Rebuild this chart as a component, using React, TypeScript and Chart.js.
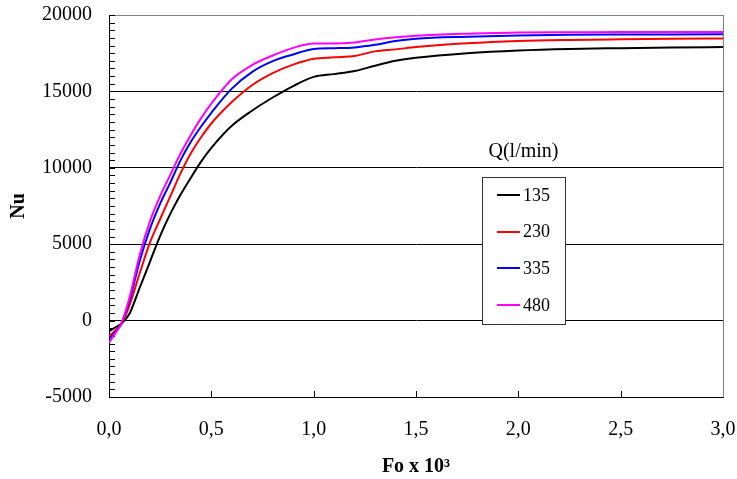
import React, { useEffect, useRef } from "react";
import { Chart, registerables } from "chart.js";

Chart.register(...registerables);

const foValues = [0, 0.03, 0.06, 0.1, 0.15, 0.2, 0.25, 0.3, 0.35, 0.4, 0.45, 0.5, 0.6, 0.7, 0.8, 0.9, 1.0, 1.1, 1.2, 1.3, 1.4, 1.5, 1.75, 2.0, 2.25, 2.5, 2.75, 3.0];

const nu135 = [-700, -450, -200, 450, 2150, 3850, 5550, 7000, 8250, 9350, 10400, 11300, 12750, 13750, 14600, 15350, 15950, 16130, 16330, 16680, 17000, 17200, 17500, 17680, 17780, 17830, 17870, 17900];
const nu230 = [-1030, -650, -250, 1000, 3100, 5100, 6650, 8150, 9650, 10950, 12000, 12900, 14300, 15420, 16200, 16750, 17130, 17230, 17320, 17620, 17750, 17900, 18150, 18300, 18370, 18410, 18440, 18460];
const nu335 = [-1250, -750, -200, 1300, 3900, 6000, 7650, 9050, 10500, 11700, 12700, 13600, 15180, 16280, 16980, 17420, 17780, 17830, 17880, 18050, 18300, 18450, 18580, 18660, 18700, 18720, 18730, 18740];
const nu480 = [-1440, -850, -200, 1500, 4300, 6500, 8150, 9550, 10950, 12150, 13250, 14200, 15800, 16730, 17350, 17850, 18130, 18130, 18200, 18400, 18550, 18650, 18780, 18860, 18870, 18880, 18880, 18890];

const seriesLabels = ["135", "230", "335", "480"];
const seriesColors = ["#000000", "#ff0000", "#0000ff", "#ff00ff"];
const seriesValues = [nu135, nu230, nu335, nu480];

const legendTitle = "Q(l/min)";
const xTitle = "Fo x 10³";
const yTitle = "Nu";

const FONT = "'Liberation Serif', 'Times New Roman', serif";

const inwardTicks = {
  id: "inwardTicks",
  beforeDatasetsDraw(chart: any) {
    const { ctx, chartArea, scales } = chart;
    const x = scales.x;
    const y = scales.y;
    ctx.save();
    ctx.strokeStyle = "#000";
    ctx.lineWidth = 1;
    ctx.beginPath();
    for (let v = -5000; v <= 20000; v += 500) {
      const py = Math.round(y.getPixelForValue(v)) + 0.5;
      ctx.moveTo(chartArea.left, py);
      ctx.lineTo(chartArea.left + 6, py);
    }
    for (let v = 0.5; v < 3; v += 0.5) {
      const px = Math.round(x.getPixelForValue(v)) + 0.5;
      ctx.moveTo(px, chartArea.bottom);
      ctx.lineTo(px, chartArea.bottom - 6);
    }
    ctx.stroke();
    ctx.restore();
  },
};

const boxLegend = {
  id: "boxLegend",
  afterDraw(chart: any) {
    const { ctx, chartArea } = chart;
    const left = chartArea.left + 373;
    const top = chartArea.top + 162;
    const w = 83;
    const h = 147;
    ctx.save();
    ctx.font = `20px ${FONT}`;
    ctx.fillStyle = "#000";
    ctx.textAlign = "center";
    ctx.textBaseline = "middle";
    ctx.fillText(legendTitle, left + w / 2, chartArea.top + 137);
    ctx.fillStyle = "#fff";
    ctx.fillRect(left + 0.5, top + 0.5, w, h);
    ctx.strokeStyle = "#333";
    ctx.lineWidth = 1;
    ctx.strokeRect(left + 0.5, top + 0.5, w, h);
    ctx.font = `18px ${FONT}`;
    ctx.textAlign = "left";
    seriesLabels.forEach((lab, i) => {
      const cy = top + 18 + i * 36.7;
      ctx.strokeStyle = seriesColors[i];
      ctx.lineWidth = 2;
      ctx.beginPath();
      ctx.moveTo(left + 15, Math.round(cy));
      ctx.lineTo(left + 38, Math.round(cy));
      ctx.stroke();
      ctx.fillStyle = "#000";
      ctx.fillText(lab, left + 41, cy + 1);
    });
    ctx.restore();
  },
};

export default function App() {
  const ref = useRef<HTMLCanvasElement>(null);
  useEffect(() => {
    if (!ref.current) return;
    const datasets = seriesValues.map((vals, i) => ({
      label: seriesLabels[i],
      data: foValues.map((fx, j) => ({ x: fx, y: vals[j] })),
      borderColor: seriesColors[i],
      backgroundColor: seriesColors[i],
      borderWidth: 2,
      pointRadius: 0,
      fill: false,
      cubicInterpolationMode: "monotone" as const,
      order: 3 - i,
    }));
    const chart = new Chart(ref.current, {
      type: "line",
      data: { datasets },
      options: {
        responsive: false,
        animation: false,
        layout: { padding: { top: 15, right: 14, bottom: 0, left: 0 } },
        plugins: { legend: { display: false }, tooltip: { enabled: false } },
        scales: {
          x: {
            type: "linear",
            min: 0,
            max: 3,
            ticks: {
              stepSize: 0.5,
              padding: 21,
              color: "#000",
              font: { family: FONT, size: 20 },
              callback: (v: any) => Number(v).toFixed(1).replace(".", ","),
              maxRotation: 0,
            },
            grid: {
              drawTicks: false,
              color: (c: any) => (c.tick && c.tick.value === 3 ? "#808080" : "rgba(0,0,0,0)"),
              lineWidth: 1,
            },
            border: { display: true, color: "#000", width: 1 },
            title: {
              display: true,
              text: xTitle,
              color: "#000",
              font: { family: FONT, size: 20, weight: "bold" },
              padding: { top: 0, bottom: 0 },
            },
            afterFit: (s: any) => {
              s.height = 82;
              s.paddingLeft = 0;
              s.paddingRight = 0;
            },
          },
          y: {
            min: -5000,
            max: 20000,
            ticks: {
              stepSize: 5000,
              padding: 17,
              color: "#000",
              font: { family: FONT, size: 20 },
              callback: (v: any) => String(Math.round(Number(v))),
            },
            grid: {
              drawTicks: false,
              color: (c: any) => (c.tick && c.tick.value === 20000 ? "#808080" : "#000"),
              lineWidth: 1,
            },
            border: { display: true, color: "#000", width: 1 },
            title: {
              display: true,
              text: yTitle,
              color: "#000",
              font: { family: FONT, size: 20, weight: "bold" },
              padding: { top: 7, bottom: 0 },
            },
            afterFit: (s: any) => {
              s.width = 109;
              s.paddingTop = 0;
              s.paddingBottom = 0;
            },
          },
        },
      },
      plugins: [inwardTicks, boxLegend],
    });
    return () => chart.destroy();
  }, []);
  return (
    <div style={{ position: "fixed", left: 0, top: 0, width: 737, height: 479, background: "#fff" }}>
      <canvas ref={ref} width={737} height={479} style={{ display: "block" }} />
    </div>
  );
}
